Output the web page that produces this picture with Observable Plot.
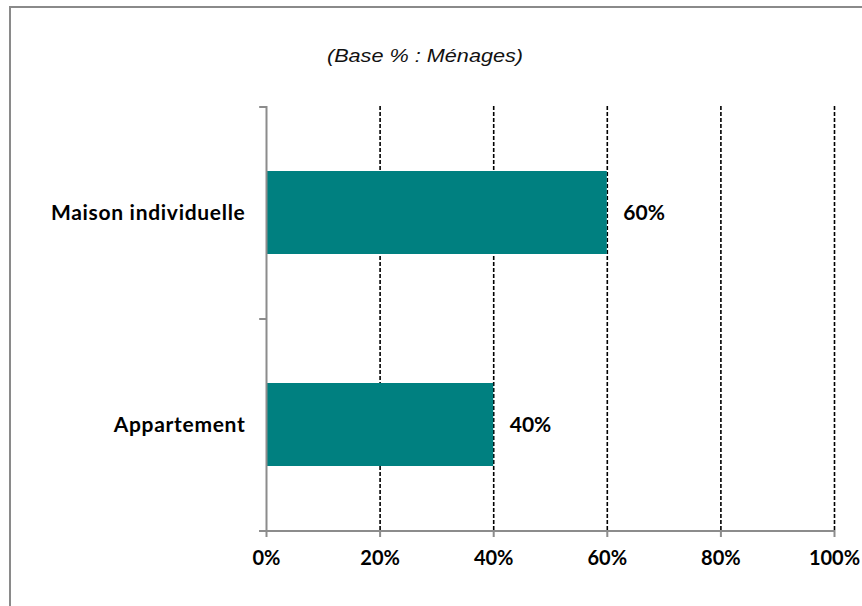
<!DOCTYPE html>
<html>
<head>
<meta charset="utf-8">
<script src="https://cdn.jsdelivr.net/npm/d3@7"></script>
<script src="https://cdn.jsdelivr.net/npm/@observablehq/plot@0.6"></script>
<style>
  html, body { margin: 0; padding: 0; background: #fff; }
  #wrap { position: relative; width: 862px; height: 606px; overflow: hidden; background: #fff; }
  #frame { position: absolute; left: 9px; top: 6px; width: 900px; height: 700px; border: 2px solid #8a8a8a; box-sizing: border-box; pointer-events: none; }
  #title { position: absolute; left: 0; top: 45px; width: 850px; text-align: center; font-family: "Liberation Sans", Arial, sans-serif; font-style: italic; font-size: 18.5px; color: #111; transform: scaleX(1.17); transform-origin: 425px 0; }
  #chart { position: absolute; left: 0; top: 0; }
  #chart svg g[aria-label="y-axis tick label"] text { letter-spacing: 0.7px; }
</style>
</head>
<body>
<div id="wrap">
  <div id="chart"></div>
  <div id="title">(Base % : Ménages)</div>
  <div id="frame"></div>
</div>
<script>
const categories = ["Maison individuelle", "Appartement"];
const values = [60, 40];
const xTicks = [0, 20, 40, 60, 80, 100];
const gridTicks = [20, 40, 60, 80, 100];

const data = categories.map((c, i) => ({cat: c, value: values[i]}));

const W = 862, H = 606, mT = 106, mB = 76, mL = 266, mR = 28;
const step = (H - mT - mB) / categories.length;
const axisGray = "#8c8c8c";

const plot = Plot.plot({
  width: W, height: H,
  marginTop: mT, marginBottom: mB, marginLeft: mL, marginRight: mR,
  style: {fontFamily: "Lato, sans-serif", fontSize: "20px", fontWeight: "bold", color: "black", background: "transparent"},
  x: {domain: [0, 100], axis: null},
  y: {domain: categories, paddingInner: 0.61, paddingOuter: 0.305, axis: null},
  marks: [
    Plot.ruleX(gridTicks, {stroke: "black", strokeWidth: 1.6, strokeDasharray: "4,2"}),
    Plot.barX(data, {x: "value", y: "cat", fill: "#008080"}),
    Plot.ruleX([0], {stroke: axisGray, strokeWidth: 2}),
    // y-axis boundary ticks
    Plot.ruleY([categories[0]], {x1: -1.2, x2: 0, dy: -step / 2, stroke: axisGray, strokeWidth: 2}),
    Plot.ruleY(categories, {x1: -1.2, x2: 0, dy: step / 2, stroke: axisGray, strokeWidth: 2}),
    // x axis line
    Plot.ruleY([categories[categories.length - 1]], {x1: -1.2, x2: 100, dy: step / 2, stroke: axisGray, strokeWidth: 2}),
    Plot.axisX({ticks: xTicks, label: null, tickSize: 7, tickPadding: 13, stroke: axisGray, strokeWidth: 2, strokeOpacity: 1, fill: "black", tickFormat: d => d + "%", fontSize: 20, fontWeight: "bold"}),
    Plot.axisY({label: null, tickSize: 0, tickPadding: 21, fill: "black", fontSize: 21, fontWeight: "bold"}),
    Plot.text(data, {x: "value", y: "cat", text: d => d.value + "%", textAnchor: "start", dx: 16, fontSize: 21, fontWeight: "bold", fill: "black"})
  ]
});
document.getElementById("chart").appendChild(plot);
</script>
</body>
</html>
